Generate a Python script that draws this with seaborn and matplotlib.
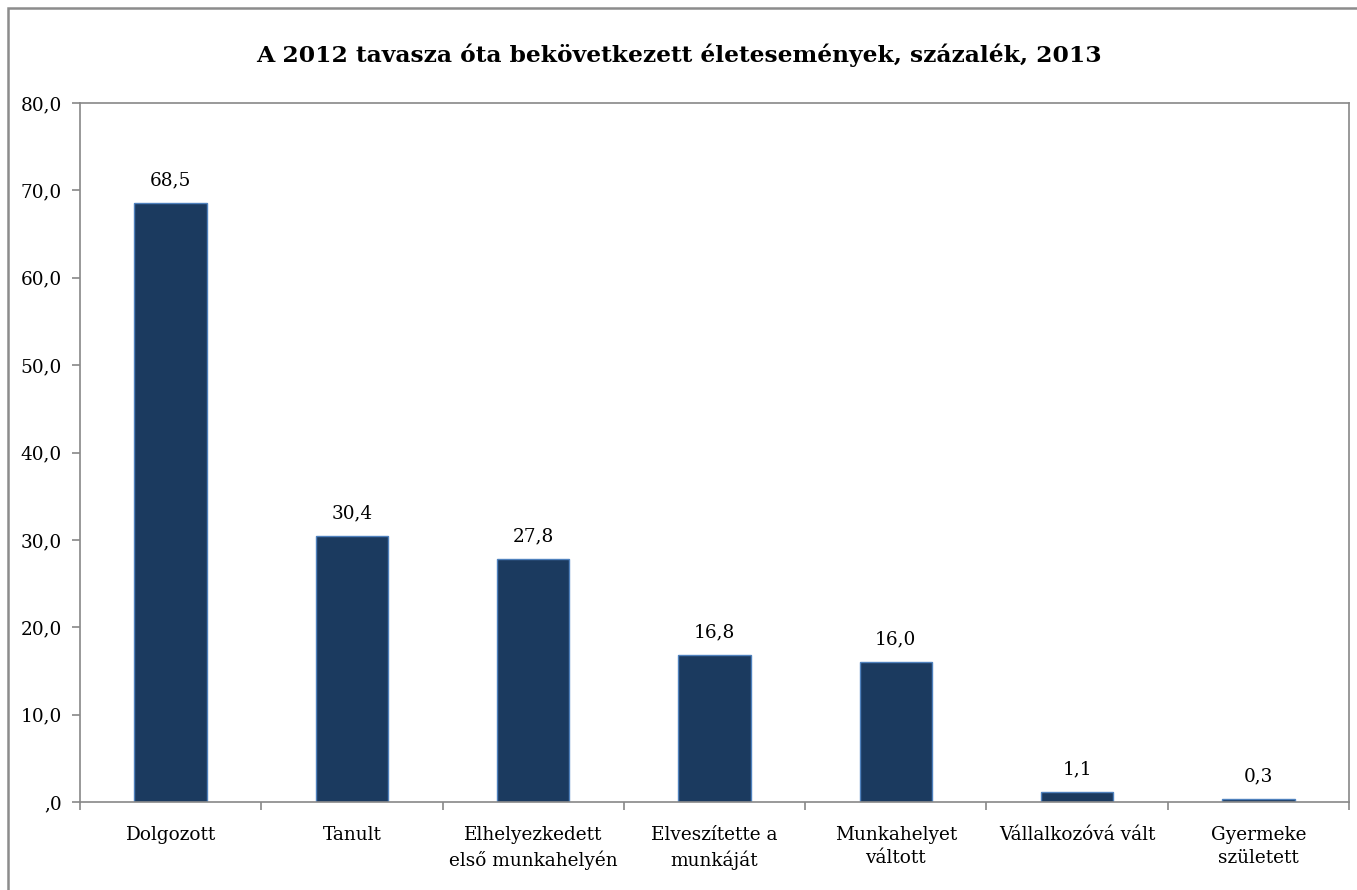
import matplotlib
matplotlib.use("Agg")
import matplotlib.pyplot as plt
import seaborn as sns
import pandas as pd
from matplotlib.patches import Rectangle

categories = ["Dolgozott", "Tanult", "Elhelyezkedett\nelső munkahelyén",
              "Elveszítette a\nmunkáját", "Munkahelyet\nváltott",
              "Vállalkozóvá vált", "Gyermeke\nszületett"]
values = [68.5, 30.4, 27.8, 16.8, 16.0, 1.1, 0.3]
value_labels = ["68,5", "30,4", "27,8", "16,8", "16,0", "1,1", "0,3"]
yticks = [0, 10, 20, 30, 40, 50, 60, 70, 80]
ytick_labels = [",0", "10,0", "20,0", "30,0", "40,0", "50,0", "60,0", "70,0", "80,0"]
title = "A 2012 tavasza óta bekövetkezett életesemények, százalék, 2013"

sns.set_theme(style="white")
plt.rcParams['font.family'] = ['DejaVu Serif']
plt.rcParams['text.color'] = 'black'
plt.rcParams['xtick.color'] = 'black'
plt.rcParams['ytick.color'] = 'black'

df = pd.DataFrame({"cat": categories, "val": values})

fig = plt.figure(figsize=(13.57, 8.9), dpi=100)
ax = fig.add_axes([80/1357, 88/890, (1349-80)/1357, (802-103)/890])

sns.barplot(data=df, x="cat", y="val", color="#1B3A5F", width=0.4,
            edgecolor="#4F81BD", linewidth=1.0, saturation=1, ax=ax)

fs = 13.3
ax.set_xlim(-0.5, len(categories) - 0.5)
ax.set_ylim(0, 80)
ax.set_yticks(yticks)
ax.set_yticklabels(ytick_labels, fontsize=fs)
ax.set_xlabel("")
ax.set_ylabel("")
ax.set_xticks(range(len(categories)))
ax.set_xticklabels(categories, fontsize=fs, linespacing=1.42)
ax.tick_params(axis="x", which="major", length=0, pad=17, labelcolor="black")
ax.set_xticks([i - 0.5 for i in range(len(categories) + 1)], minor=True)
ax.tick_params(axis="x", which="minor", bottom=True, length=6, color="#888888",
               width=1.2, direction="out")
ax.tick_params(axis="y", length=6, color="#888888", width=1.2, direction="out",
               pad=7, left=True, labelcolor="black")

for s in ax.spines.values():
    s.set_visible(True)
    s.set_color("#888888")
    s.set_linewidth(1.2)

for i, (v, lab) in enumerate(zip(values, value_labels)):
    ax.annotate(lab, (i, v), xytext=(0, 10), textcoords="offset points",
                ha="center", va="bottom", fontsize=fs, color="black")

fig.text(0.5, 1 - 55/890, title, ha="center", va="center",
         fontsize=16.8, fontweight="bold", color="black")

fig.patches.append(Rectangle((8/1357, -0.1), 1.2, (890-8)/890 + 0.1,
                             transform=fig.transFigure, fill=False,
                             edgecolor="#8c8c8c", linewidth=1.8))

fig.savefig("out.png", dpi=100)
